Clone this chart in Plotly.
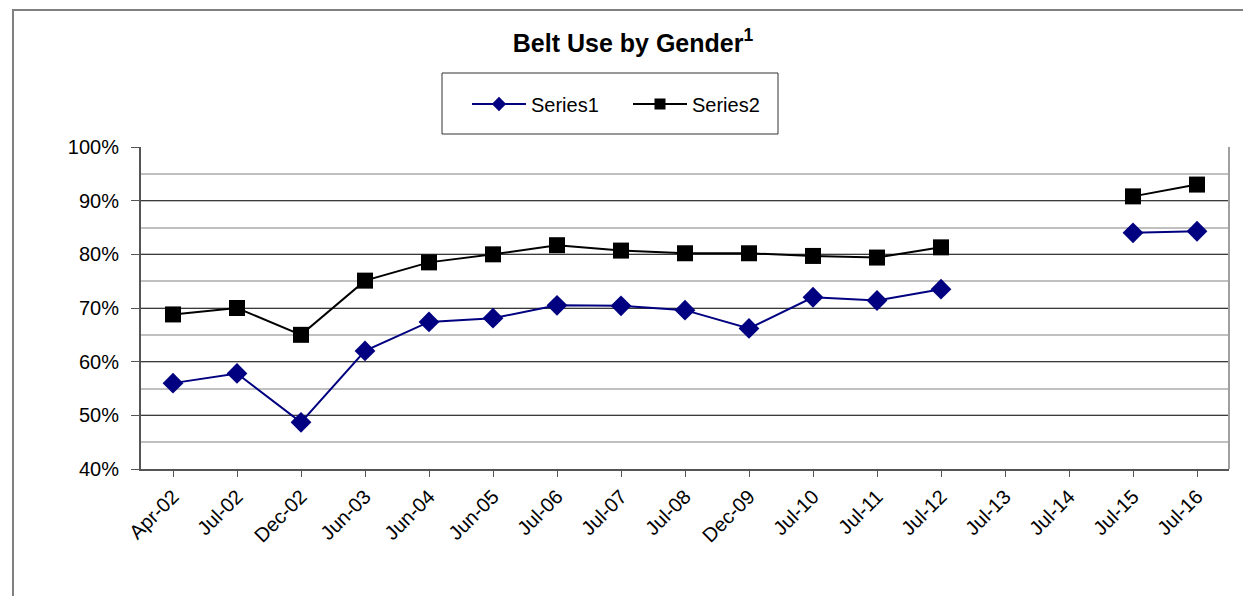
import plotly.graph_objects as go

categories = ["Apr-02", "Jul-02", "Dec-02", "Jun-03", "Jun-04", "Jun-05", "Jul-06", "Jul-07",
              "Jul-08", "Dec-09", "Jul-10", "Jul-11", "Jul-12", "Jul-13", "Jul-14", "Jul-15", "Jul-16"]
series1 = [56.0, 57.8, 48.7, 62.0, 67.4, 68.1, 70.5, 70.4, 69.6, 66.2, 72.0, 71.4, 73.5,
           None, None, 84.0, 84.3]
series2 = [68.8, 70.0, 65.0, 75.1, 78.5, 80.0, 81.7, 80.7, 80.2, 80.2, 79.7, 79.4, 81.3,
           None, None, 90.8, 93.0]
y_ticks = [40, 50, 60, 70, 80, 90, 100]
y_tick_labels = ["40%", "50%", "60%", "70%", "80%", "90%", "100%"]

FONT = "Liberation Sans, Arial, sans-serif"

styles = [
    ("Series1", series1, "#000080", "diamond"),
    ("Series2", series2, "#000000", "square"),
]

fig = go.Figure()
for name, vals, color, sym in styles:
    fig.add_trace(go.Scatter(
        x=categories, y=vals, name=name, mode="lines+markers",
        line=dict(color=color, width=2),
        marker=dict(symbol=sym, size=16, color=color),
        connectgaps=False, showlegend=False, legendgroup=name,
    ))
# legend entries with the smaller legend symbols of the reference
for name, vals, color, sym in styles:
    fig.add_trace(go.Scatter(
        x=[None], y=[None], name=name, mode="lines+markers",
        line=dict(color=color, width=2),
        marker=dict(symbol=sym, size=11, color=color),
        showlegend=True, legendgroup=name,
    ))

# page body has an 8px offset; compensate so the picture lands where the reference is
OFF = 8
W, H = 1251, 596
L, T = 141 - OFF, 147 - OFF
R = W - (1229 - OFF)
B = H - (469 - OFF)
pw = W - L - R
ph = H - T - B


def px_x(x):
    return (x - OFF - L) / pw


def px_y(y):
    return (H - B - (y - OFF)) / ph


fig.update_layout(
    width=W, height=H,
    margin=dict(l=L, r=R, t=T, b=B),
    paper_bgcolor="white", plot_bgcolor="white",
    font=dict(family=FONT, size=20, color="#000000"),
    title=dict(text="<b>Belt Use by Gender<sup>1</sup></b>", x=(633 - OFF) / W, xanchor="center",
               y=1 - (43 - OFF) / H, yanchor="middle", xref="container", yref="container",
               font=dict(size=25, family=FONT, color="#000000")),
    showlegend=True,
    legend=dict(orientation="h", x=px_x(467), xanchor="left",
                y=px_y(104), yanchor="middle",
                bgcolor="rgba(0,0,0,0)", borderwidth=0,
                font=dict(size=20, family=FONT), itemwidth=54,
                entrywidth=92, entrywidthmode="pixels",
                tracegroupgap=0),
    xaxis=dict(type="category", categoryorder="array", categoryarray=categories,
               range=[-0.5, len(categories) - 0.5],
               showgrid=False, showline=True, linecolor="#555555", linewidth=2,
               ticks="outside", ticklen=6, tickcolor="#555555", tickwidth=1,
               tickangle=-45, tickfont=dict(size=20, family=FONT), zeroline=False),
    yaxis=dict(range=[40, 100], tickvals=y_ticks, ticktext=y_tick_labels,
               showgrid=True, gridcolor="#3a3a3a", gridwidth=1,
               minor=dict(dtick=5, showgrid=True, gridcolor="#c0c0c0", gridwidth=2, ticks=""),
               showline=True, linecolor="#555555", linewidth=2,
               ticks="outside", ticklen=8, tickcolor="#555555", tickwidth=1,
               ticklabelstandoff=8,
               tickfont=dict(size=20, family=FONT), zeroline=False),
)

# legend frame
fig.add_shape(type="rect", xref="paper", yref="paper",
              x0=px_x(442), x1=px_x(778), y0=px_y(134), y1=px_y(73),
              line=dict(color="#333333", width=1), fillcolor="white", layer="below")
# right border of plot area
fig.add_shape(type="line", xref="paper", yref="paper", x0=1, x1=1, y0=0, y1=1,
              line=dict(color="#a0a0a0", width=2))
# outer chart border (extends past the visible window to the right and bottom)
fig.add_shape(type="rect", xref="paper", yref="paper",
              x0=px_x(13), x1=1.5, y0=-1.0, y1=px_y(10),
              line=dict(color="#808080", width=2), layer="below")

fig.write_html("out.html")
